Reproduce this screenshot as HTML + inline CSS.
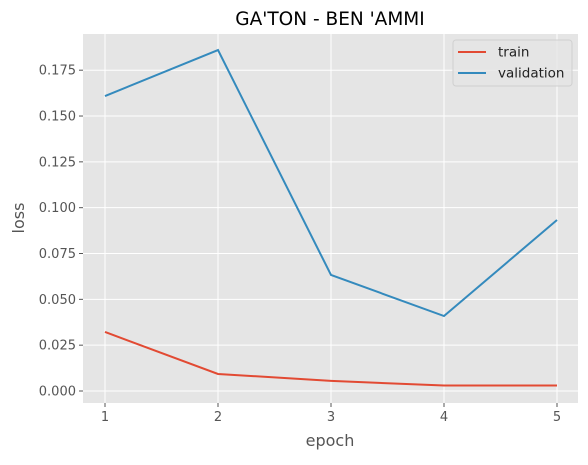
<!DOCTYPE html>
<html><head><meta charset="utf-8"><style>
body{margin:0;background:#fff;font-family:"Liberation Sans","DejaVu Sans",sans-serif}
</style></head><body>
<svg id="chart" width="588" height="460" xmlns="http://www.w3.org/2000/svg" font-family="DejaVu Sans, Liberation Sans, sans-serif"></svg>
<script>
const epochs=[1,2,3,4,5];
const trainLoss=[0.0322,0.0093,0.0055,0.003,0.003];
const valLoss=[0.1609,0.186,0.0633,0.0409,0.0933];
const yTicks=[0,0.025,0.05,0.075,0.1,0.125,0.15,0.175];
const yTickLabels=["0.000","0.025","0.050","0.075","0.100","0.125","0.150","0.175"];
const L=83,R=578,T=34,B=403;
const xs=e=>105+(e-1)*113;
const ys=v=>391-v/0.025*45.83;
const svg=document.getElementById('chart');
const NS='http://www.w3.org/2000/svg';
function mk(tag,attrs,parent){const el=document.createElementNS(NS,tag);for(const k in attrs)el.setAttribute(k,attrs[k]);(parent||svg).appendChild(el);return el;}
let el=mk('rect',{x:L,y:T,width:R-L,height:B-T,fill:'#e5e5e5'});


yTicks.forEach((v,i)=>{
  let g=mk('line',{x1:L,x2:R,y1:ys(v),y2:ys(v),stroke:'#fff','stroke-width':1});
  
  
  let tk=mk('line',{x1:L-4,x2:L,y1:ys(v),y2:ys(v),stroke:'#555'});
  
  
  let t=mk('text',{x:L-7,y:ys(v)+4.5,'text-anchor':'end','font-size':13,fill:'#555'});
  t.textContent=yTickLabels[i];
  
  
});
epochs.forEach(e=>{
  let g=mk('line',{x1:xs(e),x2:xs(e),y1:T,y2:B,stroke:'#fff','stroke-width':1});
  
  
  let tk=mk('line',{x1:xs(e),x2:xs(e),y1:B,y2:B+4,stroke:'#555'});
  
  
  let t=mk('text',{x:xs(e),y:B+18,'text-anchor':'middle','font-size':13,fill:'#555'});
  t.textContent=e;
  
  
});
function line(data,color,name){
  let p=mk('polyline',{points:data.map((v,i)=>xs(epochs[i])+','+ys(v)).join(' '),fill:'none',stroke:color,'stroke-width':2});
  
  
}
line(trainLoss,'#e24a33','train-line');
line(valLoss,'#348abd','validation-line');
let tt=mk('text',{x:330,y:25,'text-anchor':'middle','font-size':18.5,fill:'#000'});
tt.textContent="GA'TON - BEN 'AMMI";


let xl=mk('text',{x:330,y:446,'text-anchor':'middle','font-size':16,fill:'#555'});
xl.textContent='epoch';


let yl=mk('text',{x:24,y:218,'text-anchor':'middle','font-size':16,fill:'#555',transform:'rotate(-90 24 218)'});
yl.textContent='loss';


let lg=mk('g',{});


mk('rect',{x:453,y:40,width:119,height:46,rx:3,fill:'#e5e5e5',stroke:'#d0d0d0','fill-opacity':0.8},lg);
[['train','#e24a33',52],['validation','#348abd',73]].forEach(([n,c,y])=>{
  let ln=mk('line',{x1:458,x2:486,y1:y,y2:y,stroke:c,'stroke-width':2},lg);
  
  
  let t=mk('text',{x:498,y:y+4.5,'font-size':13.5,fill:'#222'},lg);
  t.textContent=n;
  
  
});
</script>
</body></html>
